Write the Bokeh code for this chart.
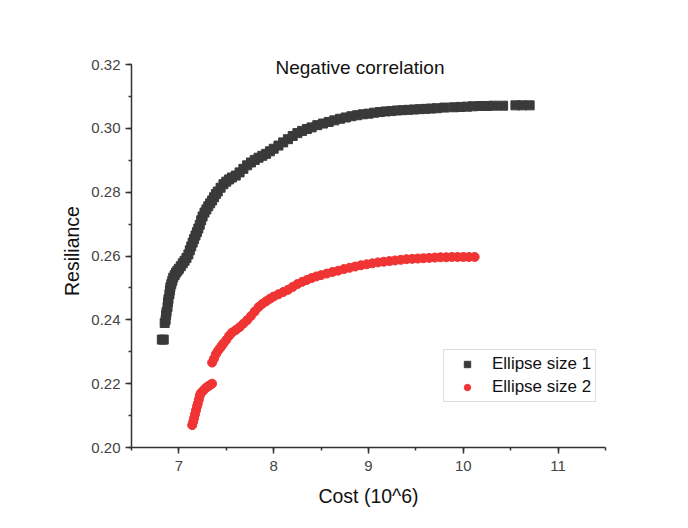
from bokeh.plotting import figure
from bokeh.models import FixedTicker, Range1d, Label, Legend, LegendItem, PrintfTickFormatter, ColumnDataSource
from bokeh.embed import file_html
from bokeh.resources import INLINE

# Series 1: Ellipse size 1 (black squares)
cost_1 = [6.82, 6.84, 6.85, 6.86, 6.865, 6.87, 6.88, 6.885, 6.89, 6.90, 6.905, 6.91, 6.92, 6.93, 6.94,
          6.955, 6.97, 6.985, 7.00, 7.02, 7.04, 7.06, 7.08, 7.10, 7.115, 7.13, 7.145, 7.16, 7.175, 7.19,
          7.205, 7.22, 7.235, 7.25, 7.27, 7.29, 7.31, 7.33, 7.35, 7.37, 7.39, 7.41, 7.44, 7.47, 7.50,
          7.53, 7.56, 7.60, 7.64, 7.68, 7.72, 7.76, 7.80, 7.84, 7.88, 7.92, 7.96, 8.00, 8.05, 8.10,
          8.15, 8.20, 8.25, 8.30, 8.35, 8.40, 8.46, 8.52, 8.58, 8.64, 8.70, 8.76, 8.82, 8.88, 8.94,
          9.00, 9.06, 9.12, 9.18, 9.24, 9.30, 9.36, 9.42, 9.48, 9.54, 9.60, 9.66, 9.72, 9.80, 9.90,
          9.97, 10.04, 10.10, 10.18, 10.25, 10.32, 10.42, 10.55, 10.62, 10.70]
res_1 = [0.2338, 0.2338, 0.2390, 0.2400, 0.2415, 0.2425, 0.2440, 0.2455, 0.2465, 0.2480, 0.2492, 0.2502,
         0.2512, 0.2522, 0.2532, 0.2540, 0.2548, 0.2554, 0.2560, 0.2568, 0.2577, 0.2585, 0.2594, 0.2605,
         0.2618, 0.2630, 0.2642, 0.2653, 0.2664, 0.2675, 0.2686, 0.2698, 0.2712, 0.2724, 0.2736, 0.2746,
         0.2756, 0.2765, 0.2774, 0.2784, 0.2794, 0.2802, 0.2814, 0.2825, 0.2833, 0.2840, 0.2846, 0.2852,
         0.2862, 0.2873, 0.2884, 0.2893, 0.2901, 0.2908, 0.2914, 0.2920, 0.2928, 0.2936, 0.2946, 0.2956,
         0.2966, 0.2976, 0.2985, 0.2992, 0.2998, 0.3003, 0.3010, 0.3015, 0.3020, 0.3025, 0.3030, 0.3034,
         0.3038, 0.3041, 0.3044, 0.3046, 0.3049, 0.3051, 0.3053, 0.3054, 0.3056, 0.3057, 0.3058, 0.3059,
         0.3060, 0.3061, 0.3062, 0.3063, 0.3065, 0.3066, 0.3067, 0.3068, 0.3069, 0.3070, 0.3070, 0.3071,
         0.3071, 0.3072, 0.3072, 0.3072]

# Series 2: Ellipse size 2 (red circles)
cost_2 = [7.14, 7.15, 7.16, 7.17, 7.18, 7.19, 7.20, 7.21, 7.22, 7.23, 7.25, 7.27, 7.29, 7.31, 7.33, 7.35,
          7.35, 7.37, 7.39, 7.41, 7.43, 7.45, 7.47, 7.50, 7.53, 7.56, 7.60, 7.64, 7.68, 7.72, 7.76,
          7.80, 7.84, 7.88, 7.92, 7.96, 8.00, 8.05, 8.10, 8.15, 8.20, 8.25, 8.30, 8.35, 8.40, 8.45,
          8.50, 8.56, 8.62, 8.68, 8.74, 8.80, 8.86, 8.92, 8.98, 9.04, 9.10, 9.16, 9.22, 9.28, 9.34,
          9.40, 9.46, 9.52, 9.58, 9.64, 9.70, 9.76, 9.82, 9.88, 9.94, 10.00, 10.06, 10.12]
res_2 = [0.2070, 0.2080, 0.2092, 0.2104, 0.2116, 0.2128, 0.2138, 0.2150, 0.2162, 0.2170, 0.2176, 0.2182,
         0.2188, 0.2192, 0.2196, 0.2200, 0.2266, 0.2278, 0.2292, 0.2302, 0.2310, 0.2318, 0.2326, 0.2337,
         0.2350, 0.2360, 0.2368, 0.2377, 0.2388, 0.2399, 0.2412, 0.2426, 0.2440, 0.2450, 0.2458, 0.2466,
         0.2473, 0.2480, 0.2487, 0.2494, 0.2503, 0.2512, 0.2519, 0.2525, 0.2531, 0.2536, 0.2540, 0.2545,
         0.2550, 0.2554, 0.2559, 0.2563, 0.2567, 0.2571, 0.2574, 0.2577, 0.2580, 0.2582, 0.2584, 0.2586,
         0.2588, 0.2590, 0.2591, 0.2592, 0.2593, 0.2594, 0.2595, 0.2596, 0.2596, 0.2597, 0.2597, 0.2597,
         0.2597, 0.2597]

x_major = [7, 8, 9, 10, 11]
x_minor = [6.5, 7, 7.5, 8, 8.5, 9, 9.5, 10, 10.5, 11, 11.5]
y_major = [0.20, 0.22, 0.24, 0.26, 0.28, 0.30, 0.32]
y_minor = [0.20, 0.21, 0.22, 0.23, 0.24, 0.25, 0.26, 0.27, 0.28, 0.29, 0.30, 0.31, 0.32]

title_text = "Negative correlation"
series_names = ["Ellipse size 1", "Ellipse size 2"]

FONT = "Liberation Sans"

# 0.32 sits 10 px below the frame top so the in-plot title is not clipped
y_top = 0.32 + 10 * 0.12 / 383

p = figure(width=688, height=528, frame_width=474, frame_height=393,
           min_border_left=131, min_border_right=83, min_border_top=54, min_border_bottom=81,
           x_range=Range1d(6.5, 11.5), y_range=Range1d(0.20, y_top),
           output_backend="svg", toolbar_location=None, tools="")
p.outline_line_color = None
p.xgrid.visible = False
p.ygrid.visible = False
p.background_fill_color = "white"
p.border_fill_color = "white"

src1 = ColumnDataSource(dict(x=cost_1, y=res_1))
src2 = ColumnDataSource(dict(x=cost_2, y=res_2))
r1 = p.scatter("x", "y", source=src1, marker="square", size=9, fill_color="#3a3a3a", line_color="#3a3a3a")
r2 = p.scatter("x", "y", source=src2, marker="circle", size=9, fill_color="#f03434", line_color="#f03434")

for ax in (p.xaxis[0], p.yaxis[0]):
    ax.axis_line_color = "#333333"
    ax.axis_line_width = 1.5
    ax.major_tick_line_color = "#333333"
    ax.minor_tick_line_color = "#333333"
    ax.major_tick_line_width = 1.5
    ax.minor_tick_line_width = 1.5
    ax.major_tick_out = 6
    ax.major_tick_in = 0
    ax.minor_tick_out = 3
    ax.minor_tick_in = 0
    ax.major_label_text_font = FONT
    ax.major_label_text_font_size = "15px"
    ax.major_label_text_color = "#444444"
    ax.axis_label_text_font = FONT
    ax.axis_label_text_font_size = "19.5px"
    ax.axis_label_text_font_style = "normal"
    ax.axis_label_text_color = "#111111"

p.xaxis[0].ticker = FixedTicker(ticks=x_major, minor_ticks=x_minor)
p.yaxis[0].ticker = FixedTicker(ticks=y_major, minor_ticks=y_minor)
p.yaxis[0].bounds = (0.20, 0.32)
p.yaxis[0].formatter = PrintfTickFormatter(format="%.2f")
p.xaxis[0].axis_label = "Cost (10^6)"
p.yaxis[0].axis_label = "Resiliance"
p.xaxis[0].axis_label_standoff = 11
p.yaxis[0].axis_label_standoff = 5
p.xaxis[0].major_label_standoff = 7
p.yaxis[0].major_label_standoff = 5

p.add_layout(Label(x=8.91, y=0.3191, text=title_text, text_align="center", text_baseline="middle",
                   text_font=FONT, text_font_size="19px", text_color="#111111"))

legend = Legend(items=[LegendItem(label=series_names[0], renderers=[r1]),
                       LegendItem(label=series_names[1], renderers=[r2])],
                location=(312, 45), border_line_color="#bbbbbb", border_line_width=1,
                background_fill_alpha=1.0, label_text_font=FONT, label_text_font_size="17px",
                label_text_color="#111111", glyph_width=38, glyph_height=16, label_height=16,
                spacing=3, padding=4, margin=0, label_standoff=6)
p.add_layout(legend)

open("out.html", "w").write(file_html(p, INLINE))
